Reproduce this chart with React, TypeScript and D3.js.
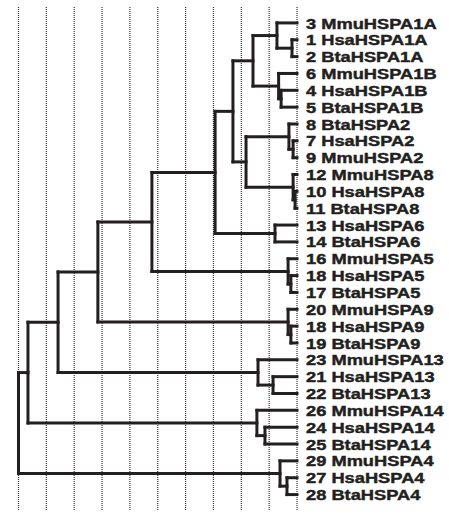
import React from "react";
import * as d3 from "d3";

// Leaf labels in display order (top to bottom)
const leafLabels: string[] = [
  "3 MmuHSPA1A", "1 HsaHSPA1A", "2 BtaHSPA1A",
  "6 MmuHSPA1B", "4 HsaHSPA1B", "5 BtaHSPA1B",
  "8 BtaHSPA2", "7 HsaHSPA2", "9 MmuHSPA2",
  "12 MmuHSPA8", "10 HsaHSPA8", "11 BtaHSPA8",
  "13 HsaHSPA6", "14 BtaHSPA6",
  "16 MmuHSPA5", "18 HsaHSPA5", "17 BtaHSPA5",
  "20 MmuHSPA9", "18 HsaHSPA9", "19 BtaHSPA9",
  "23 MmuHSPA13", "21 HsaHSPA13", "22 BtaHSPA13",
  "26 MmuHSPA14", "24 HsaHSPA14", "25 BtaHSPA14",
  "29 MmuHSPA4", "27 HsaHSPA4", "28 BtaHSPA4",
];

// Internal nodes: [name, height (grid units from root), children]
const internalNodes: [string, number, string[]][] = [
  ["root", 0, ["n1", "HSPA4"]],
  ["n1", 0.34, ["n2", "HSPA14"]],
  ["n2", 1.42, ["n3", "HSPA13"]],
  ["n3", 2.85, ["n4", "HSPA9"]],
  ["n4", 4.79, ["n5", "HSPA5"]],
  ["n5", 7.06, ["n6", "HSPA6"]],
  ["n6", 7.7, ["HSPA1", "n7"]],
  ["HSPA1", 8.42, ["HSPA1A", "HSPA1B"]],
  ["HSPA1A", 9.28, ["3 MmuHSPA1A", "n1A"]],
  ["n1A", 9.82, ["1 HsaHSPA1A", "2 BtaHSPA1A"]],
  ["HSPA1B", 9.34, ["6 MmuHSPA1B", "n1B"]],
  ["n1B", 9.43, ["4 HsaHSPA1B", "5 BtaHSPA1B"]],
  ["n7", 8.17, ["HSPA2", "HSPA8"]],
  ["HSPA2", 9.71, ["8 BtaHSPA2", "n2i"]],
  ["n2i", 9.86, ["7 HsaHSPA2", "9 MmuHSPA2"]],
  ["HSPA8", 9.86, ["12 MmuHSPA8", "n8i"]],
  ["n8i", 9.93, ["10 HsaHSPA8", "11 BtaHSPA8"]],
  ["HSPA6", 9.21, ["13 HsaHSPA6", "14 BtaHSPA6"]],
  ["HSPA5", 9.68, ["16 MmuHSPA5", "n5i"]],
  ["n5i", 9.78, ["18 HsaHSPA5", "17 BtaHSPA5"]],
  ["HSPA9", 9.68, ["20 MmuHSPA9", "n9i"]],
  ["n9i", 9.78, ["18 HsaHSPA9", "19 BtaHSPA9"]],
  ["HSPA13", 8.6, ["23 MmuHSPA13", "n13i"]],
  ["n13i", 9.14, ["21 HsaHSPA13", "22 BtaHSPA13"]],
  ["HSPA14", 8.56, ["26 MmuHSPA14", "n14i"]],
  ["n14i", 8.85, ["24 HsaHSPA14", "25 BtaHSPA14"]],
  ["HSPA4", 9.39, ["29 MmuHSPA4", "n4i"]],
  ["n4i", 9.64, ["27 HsaHSPA4", "28 BtaHSPA4"]],
];

const leafHeight = 10;
const gridTicks: number[] = d3.range(0, 11);

type TNode = { name: string; height: number; children?: TNode[] };

function buildTree(): TNode {
  const map = new Map<string, [number, string[]]>();
  internalNodes.forEach(([n, h, c]) => map.set(n, [h, c]));
  const make = (name: string): TNode => {
    const e = map.get(name);
    if (!e) return { name, height: leafHeight };
    return { name, height: e[0], children: e[1].map(make) };
  };
  return make("root");
}

export default function App() {
  const W = 449;
  const H = 514;
  const xScale = d3.scaleLinear().domain([0, 10]).range([18.5, 297]);
  const top = 14.5;
  const bottom = 503;

  const root = d3.hierarchy<TNode>(buildTree(), (d) => d.children);
  d3.cluster<TNode>().size([bottom - top, 1]).separation(() => 1)(root);

  const nodes = root.descendants();
  const X = (n: d3.HierarchyNode<TNode>) => xScale(n.data.height);
  const Y = (n: d3.HierarchyNode<TNode>) => top + (n as any).x;

  const paths: string[] = [];
  nodes.forEach((n) => {
    if (n.parent) {
      paths.push(`M${X(n.parent)},${Y(n)}H${X(n)}`);
    }
    if (n.children) {
      const ys = n.children.map(Y);
      paths.push(`M${X(n)},${d3.min(ys)}V${d3.max(ys)}`);
    }
  });

  const leaves = root.leaves();

  return (
    <svg
      width={W}
      height={H}
      style={{ position: "absolute", left: 0, top: 0, background: "#fff" }}
    >
      <g>
        {gridTicks.map((t) => (
          <line
            key={t}
            x1={xScale(t)}
            x2={xScale(t)}
            y1={7}
            y2={511}
            stroke="#333"
            strokeWidth={1.2}
            strokeDasharray="1,1"
          />
        ))}
      </g>
      <g fill="none" stroke="#231f20" strokeWidth={3} strokeLinecap="square">
        {paths.map((d, i) => (
          <path key={i} d={d} />
        ))}
      </g>
      <g
        fontFamily="'Liberation Sans', Arial, sans-serif"
        fontWeight="bold"
        fontSize={15.5}
        fill="#231f20"
        stroke="#231f20"
        strokeWidth={0.45}
      >
        {leaves.map((l, i) => (
          <text
            key={i}
            transform={`translate(306,${Y(l)}) scale(1.18,1)`}
            dy="0.36em"
          >
            {leafLabels[i]}
          </text>
        ))}
      </g>
    </svg>
  );
}
